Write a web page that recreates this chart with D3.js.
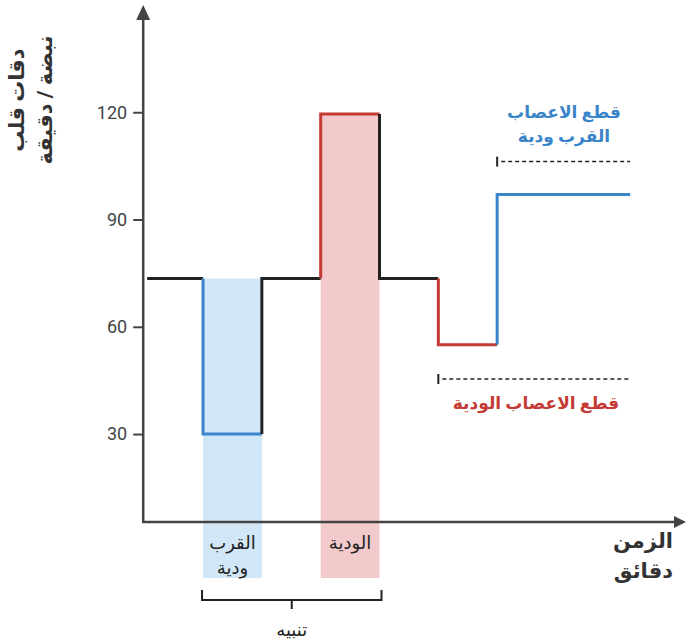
<!DOCTYPE html>
<html><head><meta charset="utf-8">
<script src="https://cdn.jsdelivr.net/npm/d3@7"></script>
<style>body{margin:0;background:#fff}svg{display:block}text{font-family:Roboto,"DejaVu Sans",sans-serif}</style>
</head><body>
<script>
// Data
const stepTimes = [0.05, 1, 2, 3, 4, 5, 6, 8.26];
const stepValues = [73.5, 30, 73.5, 119.5, 73.5, 55, 97];
const stepKinds = ["base", "blue", "base", "red", "base", "red", "blue"];
const yTicks = [30, 60, 90, 120];
const bands = [{t0: 1, t1: 2, kind: "blue", top: 73.5}, {t0: 3, t1: 4, kind: "red", top: 119.5}];
const refLines = [{t0: 6, t1: 8.26, v: 106.2}, {t0: 5, t1: 8.26, v: 45.4}];

const W = 686, H = 643;
const colors = {base: "#222", blue: "#3a84c9", red: "#c43a34"};
const bandColors = {blue: "#d1e6f6", red: "#f2cacb"};

const svg = d3.select("body").append("svg").attr("width", W).attr("height", H);
const x = d3.scaleLinear().domain([0, 9.21]).range([144.2, 686]);
const y = d3.scaleLinear().domain([5.4, 150]).range([522, 5]);

const bandBottom = y(5.4) + 56;
// bands
svg.selectAll("rect.band").data(bands).join("rect")
  .attr("x", d => x(d.t0)).attr("width", d => x(d.t1) - x(d.t0))
  .attr("y", d => y(d.top)).attr("height", d => bandBottom - y(d.top))
  .attr("fill", d => bandColors[d.kind]);

// axes
const axisColor = "#444";
const yAxis = svg.append("g").attr("transform", `translate(${x(0) - 1},0)`)
  .call(d3.axisLeft(y).tickValues(yTicks).tickSize(10).tickPadding(6).tickFormat(d3.format("d")));
yAxis.select(".domain").remove();
yAxis.selectAll(".tick line").attr("stroke", axisColor).attr("stroke-width", 2);
yAxis.selectAll(".tick text").attr("font-size", 18).attr("fill", "#444").attr("font-family", "Roboto");

svg.append("line").attr("x1", x(0) - 1).attr("x2", x(0) - 1).attr("y1", y(5.4) + 1).attr("y2", 18)
  .attr("stroke", axisColor).attr("stroke-width", 2.5);
svg.append("path").attr("d", `M${x(0) - 1 - 7},20 L${x(0) - 1 + 7},20 L${x(0) - 1},5 Z`).attr("fill", axisColor);
svg.append("line").attr("x1", x(0) - 2).attr("x2", 676).attr("y1", y(5.4)).attr("y2", y(5.4))
  .attr("stroke", axisColor).attr("stroke-width", 2.5);
svg.append("path").attr("d", `M674,${y(5.4) - 6} L674,${y(5.4) + 6} L686,${y(5.4)} Z`).attr("fill", axisColor);

// step line
const line = d3.line().x(d => x(d[0])).y(d => y(d[1]));
const segs = stepValues.map((v, i) => {
  const pts = [];
  if (i > 0) pts.push([stepTimes[i], stepValues[i - 1]]);
  pts.push([stepTimes[i], v]);
  pts.push([stepTimes[i + 1], v]);
  return {pts, kind: stepKinds[i]};
});
svg.selectAll("path.seg").data(segs).join("path")
  .attr("d", d => line(d.pts)).attr("fill", "none")
  .attr("stroke", d => colors[d.kind]).attr("stroke-width", 3).attr("stroke-linejoin", "miter");

// reference dashed lines
refLines.forEach(r => {
  svg.append("line").attr("x1", x(r.t0) + 4).attr("x2", x(r.t1)).attr("y1", y(r.v)).attr("y2", y(r.v))
    .attr("stroke", "#222").attr("stroke-width", 1.5).attr("stroke-dasharray", "4,3");
  svg.append("line").attr("x1", x(r.t0)).attr("x2", x(r.t0)).attr("y1", y(r.v) - 5).attr("y2", y(r.v) + 5)
    .attr("stroke", "#222").attr("stroke-width", 2);
});

// annotations
const ar = (t, xx, yy, opts) => svg.append("text").attr("x", xx).attr("y", yy).attr("direction", "rtl")
  .attr("text-anchor", opts.anchor || "middle").attr("font-size", opts.size || 16)
  .attr("font-weight", opts.weight || "normal").attr("fill", opts.fill || "#222").text(t);

ar("قطع الاعصاب", 564, 118, {fill: colors.blue, weight: "bold", size: 17});
ar("القرب ودية", 564, 142, {fill: colors.blue, weight: "bold", size: 17});
ar("قطع الاعصاب الودية", 536, 409, {fill: colors.red, weight: "bold", size: 17});

ar("القرب", x(1.5), 549, {size: 18});
ar("ودية", x(1.5), 574, {size: 18});
ar("الودية", x(3.5), 549, {size: 18});

// bracket
const bx0 = x(1) - 1, bx1 = x(4) + 2, by = 600;
svg.append("path").attr("d", `M${bx0},${by - 10} L${bx0},${by} L${bx1},${by} L${bx1},${by - 10}`)
  .attr("fill", "none").attr("stroke", "#222").attr("stroke-width", 2);
svg.append("line").attr("x1", (bx0 + bx1) / 2).attr("x2", (bx0 + bx1) / 2).attr("y1", by).attr("y2", by + 9)
  .attr("stroke", "#222").attr("stroke-width", 2);
ar("تنبيه", (bx0 + bx1) / 2, 636, {size: 18});

// axis titles
ar("الزمن", 673, 548, {anchor: "start", weight: "bold", size: 21, fill: "#333"});
ar("دقائق", 673, 578, {anchor: "start", weight: "bold", size: 21, fill: "#333"});

const yl = svg.append("g").attr("transform", "translate(0,100) rotate(-90)");
yl.append("text").attr("x", 0).attr("y", 24).attr("text-anchor", "middle").attr("direction", "rtl")
  .attr("font-size", 21).attr("font-weight", "bold").attr("fill", "#333").text("دقات قلب");
yl.append("text").attr("x", 0).attr("y", 52).attr("text-anchor", "middle").attr("direction", "rtl")
  .attr("font-size", 21).attr("font-weight", "bold").attr("fill", "#333").text("نبضة / دقيقة");
</script>
</body></html>
